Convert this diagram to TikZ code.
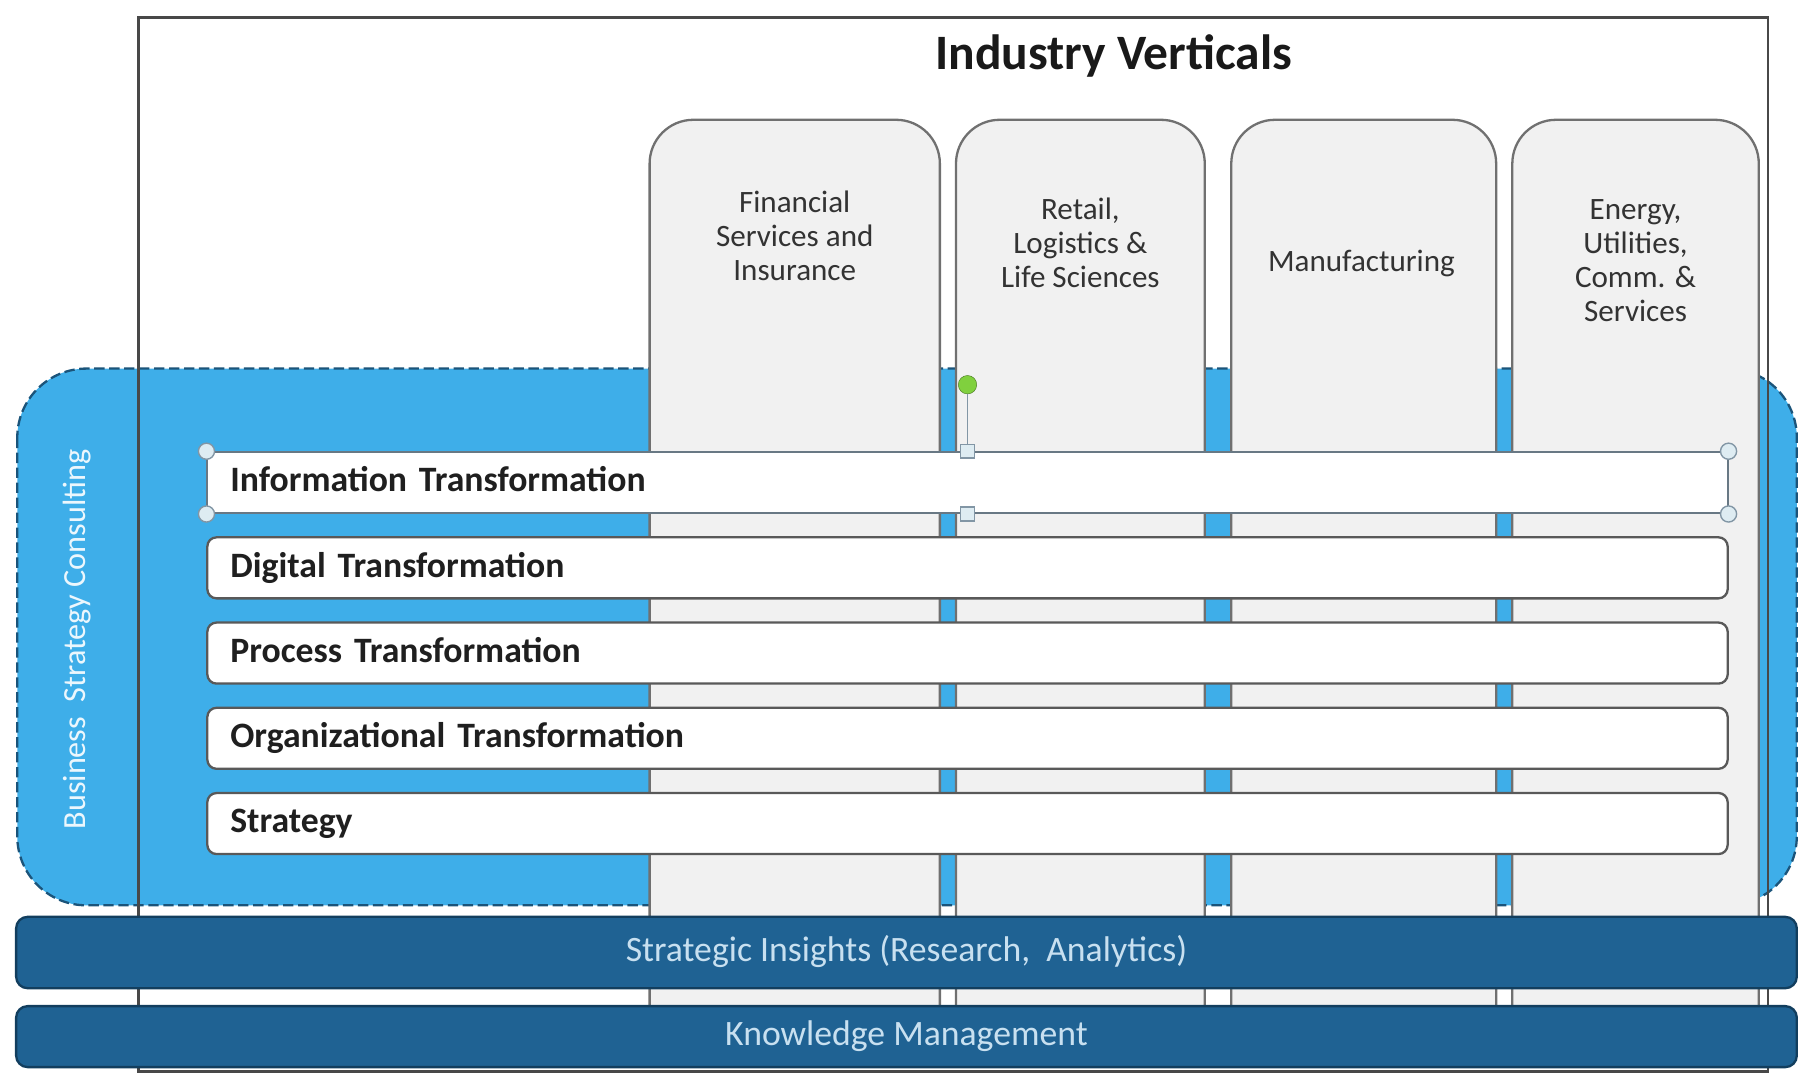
\documentclass[tikz,border=0pt]{standalone}
\usepackage{fontspec}
\setmainfont{Carlito}
\definecolor{skyblue}{RGB}{62,174,233}
\definecolor{deepblue}{RGB}{31,98,147}
\definecolor{bandedge}{RGB}{18,62,94}
\definecolor{colfill}{RGB}{241,241,241}
\definecolor{coledge}{RGB}{112,112,112}
\definecolor{frameedge}{RGB}{72,72,72}
\definecolor{bandtext}{RGB}{200,224,240}
\definecolor{knobfill}{RGB}{222,236,242}
\definecolor{knobedge}{RGB}{130,150,165}
\definecolor{spingreen}{RGB}{128,208,62}
\begin{document}
\begin{tikzpicture}[x=1pt,y=-1pt,
  colbox/.style={draw=coledge,line width=2pt,fill=colfill,rounded corners=38pt,minimum width=#1,minimum height=816pt,inner sep=0pt},
  coltext/.style={align=center,text=black!80,font=\fontsize{27}{29.5}\selectfont},
  layer/.style={draw=black!65,line width=2pt,fill=white,rounded corners=8pt,text width=1280pt,inner xsep=20pt,minimum height=53pt,align=left,text height=21pt,text depth=5pt,font=\fontsize{31}{36}\selectfont\bfseries,text=black!88},
  band/.style={draw=bandedge,line width=2pt,fill=deepblue,rounded corners=10pt,minimum width=1546pt,text=bandtext,text height=21pt,text depth=5pt,font=\fontsize{31}{36}\selectfont},
  selknob/.style={circle,draw=knobedge,fill=knobfill,line width=1.2pt,minimum size=14pt,inner sep=0pt},
  selsquare/.style={rectangle,draw=knobedge,fill=knobfill,line width=1.2pt,minimum size=12pt,inner sep=0pt},
  spinknob/.style={circle,draw=spingreen!60!black,fill=spingreen,minimum size=16pt,inner sep=0pt}]
\useasboundingbox (0,0) rectangle (1568,945);
\draw[fill=skyblue,draw=bandedge!80!skyblue,dash pattern=on 9pt off 4pt,line width=2pt,rounded corners=60pt] (15,320) rectangle (1560,786);
\draw[frameedge,line width=2.5pt] (120,15) rectangle (1535,930);
\node[anchor=base,font=\fontsize{43}{50}\selectfont\bfseries,text=black!90] (title) at (967,60) {Industry Verticals};
\node[colbox=252pt] (fin) at (690,512) {};
\node[colbox=216pt] (ret) at (938,512) {};
\node[colbox=230pt] (man) at (1184,512) {};
\node[colbox=214pt] (ene) at (1420,512) {};
\node[coltext] (fintxt) at (690,205) {Financial\\Services and\\Insurance};
\node[coltext] (rettxt) at (938,211) {Retail,\\Logistics \&\\Life Sciences};
\node[coltext] (mantxt) at (1182,229) {Manufacturing};
\node[coltext] (enetxt) at (1420,226) {Energy,\\Utilities,\\Comm. \&\\Services};
\node[rotate=90,text=white!90!skyblue,font=\fontsize{28}{32}\selectfont] (bsc) at (67,555) {Business\ \ Strategy Consulting};
\node[layer,rounded corners=0pt,draw=knobedge!80!black,line width=1.5pt] (info) at (840,419) {Information Transformation};
\node[layer] (digi) at (840,493) {Digital Transformation};
\node[layer] (proc) at (840,567) {Process Transformation};
\node[layer] (org) at (840,641) {Organizational Transformation};
\node[layer] (strat) at (840,715) {Strategy};
\node[band,minimum height=62pt] (insight) at (787,827) {Strategic Insights (Research,\ \ Analytics)};
\node[band,minimum height=53pt] (knowledge) at (787,900) {Knowledge Management};
\node[spinknob] (spin) at (840,334) {};
\draw[knobedge,line width=1.5pt] (spin) -- (info.north);
\node[selknob] (k1) at (info.north west) {};
\node[selknob] (k2) at (info.south west) {};
\node[selknob] (k3) at (info.north east) {};
\node[selknob] (k4) at (info.south east) {};
\node[selsquare] (s1) at (info.north) {};
\node[selsquare] (s2) at (info.south) {};
\end{tikzpicture}
\end{document}
